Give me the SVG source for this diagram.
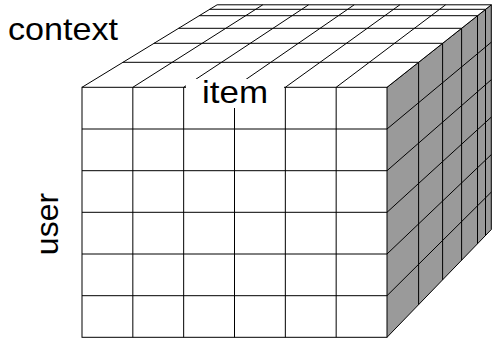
<svg xmlns="http://www.w3.org/2000/svg" width="492" height="341" viewBox="0 0 492 341">
<style>
.ln{stroke:#000;stroke-width:1;fill:none}
.lbl{font-family:"Liberation Sans",Arial,sans-serif;font-size:32px;fill:#000}
</style>
<rect width="492" height="341" fill="#fff"/>
<g id="right-face">
<polygon points="387,87.3 491.3,4.8 491.3,229.5 387,337.3" fill="#9a9a9a"/>
<path class="ln" d="M387,87.3L491.3,4.8M387,129L491.3,42.2M387,170.7L491.3,79.7M387,212.3L491.3,117.1M387,254L491.3,154.6M387,295.7L491.3,192.1M387,337.3L491.3,229.5"/>
<path class="ln" d="M418.6,62.3V304.6M442.6,43.3V279.9M461.6,28.3V260.2M477.5,15.7V243.8M485.5,9.3V235.5M491.3,4.8V229.5"/>
</g>
<g id="top-face">
<polygon points="82,87.3 217.1,4.8 491.3,4.8 387,87.3" fill="#fff"/>
<path class="ln" d="M122.9,62.3H418.6M154,43.3H442.6M178.6,28.3H461.6M199.2,15.7H477.5M209.6,9.3H485.5M217.1,4.8H491.3"/>
<path class="ln" d="M82,87.3L217.1,4.8M132.83,87.3L262.8,4.8M183.67,87.3L308.6,4.8M234.5,87.3L354.2,4.8M285.33,87.3L399.9,4.8M336.17,87.3L445.6,4.8M387,87.3L491.3,4.8"/>
</g>
<g id="front-face">
<rect x="82" y="87.3" width="305" height="250" fill="#fff" class="ln"/>
<path class="ln" d="M132.83,87.3V337.3M183.67,87.3V337.3M234.5,87.3V337.3M285.33,87.3V337.3M336.17,87.3V337.3"/>
<path class="ln" d="M82,129H387M82,170.7H387M82,212.3H387M82,254H387M82,295.7H387"/>
</g>
<g id="label-context">
<text class="lbl" x="8" y="40" textLength="110" lengthAdjust="spacingAndGlyphs">context</text>
</g>
<g id="label-item">
<rect x="186" y="79" width="98" height="29" fill="#fff"/>
<text class="lbl" x="202" y="103" textLength="66" lengthAdjust="spacingAndGlyphs">item</text>
</g>
<g id="label-user">
<text class="lbl" transform="translate(58,224) rotate(-90)" text-anchor="middle" x="0" y="0">user</text>
</g>
</svg>
